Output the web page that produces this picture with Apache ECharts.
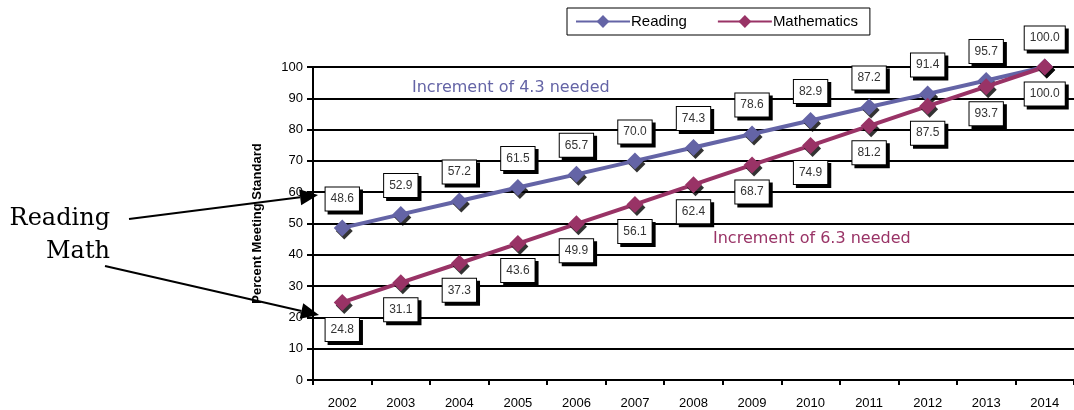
<!DOCTYPE html>
<html>
<head>
<meta charset="utf-8">
<script src="https://cdn.jsdelivr.net/npm/echarts@6/dist/echarts.min.js"></script>
<style>
  html, body { margin: 0; padding: 0; background: #fff; }
  #chart { width: 1074px; height: 410px; }
</style>
</head>
<body>
<div id="chart"></div>
<script>
// values
let years = ["2002", "2003", "2004", "2005", "2006", "2007", "2008", "2009", "2010", "2011", "2012", "2013", "2014"];
let reading = [48.6, 52.9, 57.2, 61.5, 65.7, 70.0, 74.3, 78.6, 82.9, 87.2, 91.4, 95.7, 100.0];
let maths = [24.8, 31.1, 37.3, 43.6, 49.9, 56.1, 62.4, 68.7, 74.9, 81.2, 87.5, 93.7, 100.0];

let readColor = "#6464a6";
let mathColor = "#993366";

function boxLabel(offsetY) {
    return {
        show: true,
        position: "inside",
        offset: [0, offsetY],
        formatter: p => p.value.toFixed(1),
        fontFamily: "Liberation Sans",
        fontSize: 12,
        color: "#333",
        backgroundColor: "#fff",
        borderColor: "#000",
        borderWidth: 1,
        padding: [6, 5, 5, 5],
        shadowColor: "#000",
        shadowOffsetX: 3,
        shadowOffsetY: 3,
        shadowBlur: 0.1
    };
}

function arrow(x1, y1, x2, y2) {
    let ang = Math.atan2(y2 - y1, x2 - x1);
    let len = 18, half = 8;
    let bx = x2 - len * Math.cos(ang), by = y2 - len * Math.sin(ang);
    let px = -Math.sin(ang) * half, py = Math.cos(ang) * half;
    return [
        { type: "line", shape: { x1: x1, y1: y1, x2: bx, y2: by }, style: { stroke: "#000", lineWidth: 2 } },
        { type: "polygon", shape: { points: [[x2, y2], [bx + px, by + py], [bx - px, by - py]] }, style: { fill: "#000" } }
    ];
}

let chart = echarts.init(document.getElementById("chart"));

chart.setOption({
    animation: false,
    textStyle: { fontFamily: "Liberation Sans" },
    legend: {
        left: 567,
        top: 8,
        padding: [6, 12, 6, 8],
        borderColor: "#000",
        borderWidth: 1,
        itemWidth: 54,
        itemHeight: 16,
        itemGap: 30,
        textStyle: { fontSize: 15, color: "#000", padding: [0, 0, 0, -4] },
        data: ["Reading", "Mathematics"]
    },
    grid: { left: 313, top: 67, width: 767, height: 313 },
    xAxis: {
        type: "category",
        data: years,
        boundaryGap: true,
        axisLine: { lineStyle: { color: "#000", width: 2 } },
        axisTick: { show: true, length: 5, lineStyle: { color: "#000", width: 2 } },
        axisLabel: { fontSize: 13, color: "#000", margin: 17 },
        splitLine: { show: false }
    },
    yAxis: {
        type: "value",
        min: 0,
        max: 100,
        interval: 10,
        name: "Percent Meeting Standard",
        nameLocation: "middle",
        nameRotate: 90,
        nameGap: 49,
        nameTextStyle: { fontSize: 13, fontWeight: "bold", color: "#000" },
        axisLine: { show: true, lineStyle: { color: "#000", width: 2 } },
        axisTick: { show: true, length: 6, lineStyle: { color: "#000", width: 2 } },
        axisLabel: { fontSize: 13, color: "#000", margin: 10 },
        splitLine: { show: true, lineStyle: { color: "#000", width: 2 } }
    },
    series: [
        {
            name: "Reading",
            type: "line",
            data: reading,
            symbol: "diamond",
            symbolSize: 17,
            color: readColor,
            lineStyle: { width: 4, color: readColor },
            itemStyle: { color: readColor, shadowColor: "rgba(0,0,0,0.8)", shadowOffsetX: 2, shadowOffsetY: 3 },
            label: boxLabel(-29),
            z: 3
        },
        {
            name: "Mathematics",
            type: "line",
            data: maths,
            symbol: "diamond",
            symbolSize: 17,
            color: mathColor,
            lineStyle: { width: 4, color: mathColor },
            itemStyle: { color: mathColor, shadowColor: "rgba(0,0,0,0.8)", shadowOffsetX: 2, shadowOffsetY: 3 },
            label: boxLabel(27),
            z: 4
        }
    ],
    graphic: [
        { type: "text", left: 412, top: 80, style: { text: "Increment of 4.3 needed", fill: readColor, fontSize: 16, fontFamily: "DejaVu Sans" } },
        { type: "text", left: 713, top: 231, style: { text: "Increment of 6.3 needed", fill: mathColor, fontSize: 16, fontFamily: "DejaVu Sans" } },
        { type: "text", right: 964, top: 207, style: { text: "Reading", fill: "#000", fontSize: 24, fontFamily: "DejaVu Serif" } },
        { type: "text", right: 964, top: 240, style: { text: "Math", fill: "#000", fontSize: 24, fontFamily: "DejaVu Serif" } },
        ...arrow(129, 219, 318, 195),
        ...arrow(105, 266, 319, 315)
    ]
});
</script>
</body>
</html>
